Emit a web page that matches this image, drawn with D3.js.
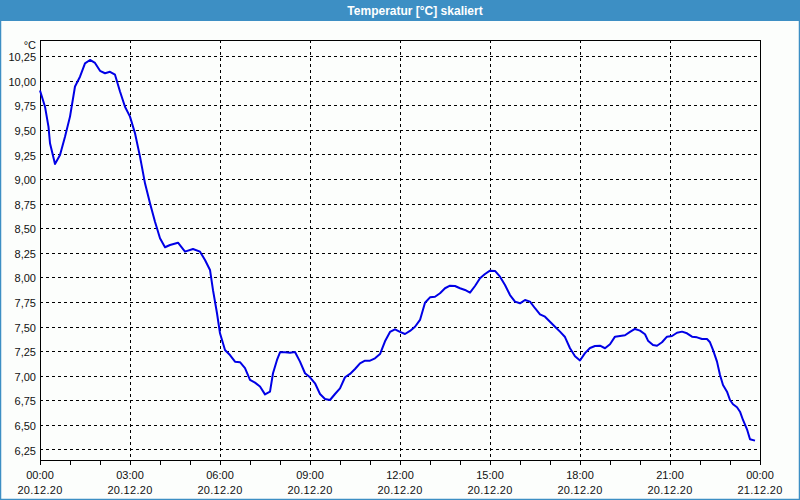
<!DOCTYPE html>
<html>
<head>
<meta charset="utf-8">
<script src="https://cdn.jsdelivr.net/npm/d3@7"></script>
<style>
html,body{margin:0;padding:0;background:#fcfefc;}
svg{display:block;}
</style>
</head>
<body>
<svg id="chart" width="800" height="500"></svg>
<script>
// ---- data ----
const titleText = "Temperatur [°C] skaliert";
const unitLabel = "°C";
// minutes since 20.12.20 00:00
const minutes = [0,10,17,20,30,40,50,60,70,80,90,100,110,120,130,140,150,160,170,180,190,200,210,220,230,240,250,260,276,290,306,320,330,340,346,354,360,370,380,390,400,410,420,430,440,450,460,466,474,480,490,500,510,520,530,540,550,560,570,580,590,600,610,620,630,640,650,660,670,680,690,700,710,720,730,740,750,760,770,780,790,800,810,820,830,840,850,860,870,880,890,900,910,920,930,940,950,960,970,980,990,1000,1010,1020,1030,1040,1050,1060,1070,1080,1090,1100,1110,1120,1130,1140,1150,1160,1170,1180,1190,1200,1210,1216,1226,1234,1244,1254,1264,1274,1284,1294,1304,1314,1324,1334,1340,1346,1354,1360,1366,1374,1380,1386,1394,1400,1406,1414,1420,1430];
const temps = [9.90,9.735,9.53,9.363,9.153,9.244,9.43,9.634,9.94,10.04,10.176,10.21,10.18,10.10,10.075,10.09,10.06,9.89,9.735,9.634,9.465,9.227,8.956,8.753,8.566,8.397,8.306,8.329,8.352,8.261,8.288,8.261,8.177,8.075,7.87,7.635,7.431,7.262,7.21,7.143,7.137,7.076,6.957,6.93,6.89,6.81,6.838,7.025,7.16,7.238,7.238,7.234,7.241,7.143,7.025,6.984,6.923,6.814,6.763,6.753,6.814,6.872,6.984,7.018,7.068,7.126,7.153,7.153,7.177,7.22,7.35,7.445,7.472,7.445,7.424,7.455,7.498,7.567,7.742,7.797,7.803,7.838,7.889,7.915,7.912,7.889,7.872,7.844,7.912,7.99,8.034,8.068,8.065,8.007,7.922,7.82,7.753,7.736,7.77,7.753,7.686,7.624,7.60,7.549,7.498,7.448,7.393,7.279,7.197,7.155,7.23,7.282,7.302,7.305,7.279,7.32,7.397,7.404,7.411,7.445,7.475,7.458,7.421,7.356,7.312,7.305,7.34,7.397,7.404,7.437,7.448,7.431,7.397,7.39,7.373,7.373,7.34,7.262,7.143,7.007,6.906,6.838,6.753,6.71,6.679,6.634,6.55,6.455,6.354,6.34];
const yTicks = [6.25,6.5,6.75,7,7.25,7.5,7.75,8,8.25,8.5,8.75,9,9.25,9.5,9.75,10,10.25];
const xMajorTicks = [0,180,360,540,720,900,1080,1260,1440];
const xTimeLabels = ["00:00","03:00","06:00","09:00","12:00","15:00","18:00","21:00","00:00"];
const xDateLabels = ["20.12.20","20.12.20","20.12.20","20.12.20","20.12.20","20.12.20","20.12.20","20.12.20","21.12.20"];
const xMinorTicks = d3.range(0, 1441, 60);
const yDomain = [6.143, 10.413];

// ---- layout ----
const W = 800, H = 500;
const L = 40, R = 760, T = 40, B = 460;
const svg = d3.select("#chart");
const font = "'Liberation Sans', Arial, sans-serif";

svg.append("rect").attr("x",0).attr("y",0).attr("width",W).attr("height",H).attr("fill","#fcfefc");
// window border
svg.append("rect").attr("x",0.5).attr("y",0.5).attr("width",W-1).attr("height",H-1)
  .attr("fill","none").attr("stroke","#3d8fc4").attr("stroke-width",1.5);
// title bar
svg.append("rect").attr("x",0).attr("y",0).attr("width",W).attr("height",21).attr("fill","#3d8fc4");
svg.append("text").attr("x",415).attr("y",14.5).attr("text-anchor","middle")
  .attr("font-family",font).attr("font-weight","bold").attr("font-size",12)
  .attr("fill","#ffffff").text(titleText);

const x = d3.scaleLinear().domain([0,1440]).range([L,R]);
const y = d3.scaleLinear().domain(yDomain).range([B,T]);

// grid
const grid = svg.append("g").attr("stroke","#000").attr("stroke-width",1).attr("stroke-dasharray","3,3").attr("shape-rendering","crispEdges");
grid.selectAll("line.h").data(yTicks).join("line").attr("class","h")
  .attr("x1",L).attr("x2",R).attr("y1",d=>Math.round(y(d))+0.5).attr("y2",d=>Math.round(y(d))+0.5);
grid.selectAll("line.v").data(xMajorTicks.slice(1,-1)).join("line").attr("class","v")
  .attr("y1",T).attr("y2",B).attr("x1",d=>Math.round(x(d))+0.5).attr("x2",d=>Math.round(x(d))+0.5);

// x axis (ticks down)
const xAxis = d3.axisBottom(x).tickValues(xMinorTicks).tickSize(4).tickFormat("");
const gx = svg.append("g").attr("transform",`translate(0,${B+0.5})`).call(xAxis);
gx.select(".domain").remove();
gx.selectAll("line").attr("stroke","#000").attr("shape-rendering","crispEdges");

// x labels
const lab = svg.append("g").attr("font-family",font).attr("font-size",11).attr("fill","#111").attr("text-anchor","middle");
lab.selectAll("text.t").data(xMajorTicks).join("text").attr("class","t")
  .attr("x",d=>x(d)).attr("y",479).text((d,i)=>xTimeLabels[i]);
lab.selectAll("text.d").data(xMajorTicks).join("text").attr("class","d")
  .attr("x",d=>x(d)).attr("y",494).attr("letter-spacing","0.3").text((d,i)=>xDateLabels[i]);

// y labels
const yAxis = d3.axisLeft(y).tickValues(yTicks).tickSize(0).tickPadding(4)
  .tickFormat(d=>d3.format(".2f")(d).replace(".",","));
const gy = svg.append("g").attr("transform",`translate(${L},0)`).call(yAxis);
gy.select(".domain").remove();
gy.selectAll("text").attr("font-family",font).attr("font-size",11).attr("fill","#111").attr("dy","0.42em");
svg.append("text").attr("x",36).attr("y",49).attr("text-anchor","end")
  .attr("font-family",font).attr("font-size",11).attr("fill","#111").text(unitLabel);

// frame
svg.append("rect").attr("x",L+0.5).attr("y",T+0.5).attr("width",R-L).attr("height",B-T)
  .attr("fill","none").attr("stroke","#000").attr("stroke-width",1).attr("shape-rendering","crispEdges");

// line
const data = minutes.map((m,i)=>({m, v:temps[i]}));
svg.append("path").datum(data)
  .attr("d", d3.line().x(d=>x(d.m)).y(d=>y(d.v)))
  .attr("fill","none").attr("stroke","#0000e6").attr("stroke-width",2).attr("stroke-linejoin","round");
</script>
</body>
</html>
